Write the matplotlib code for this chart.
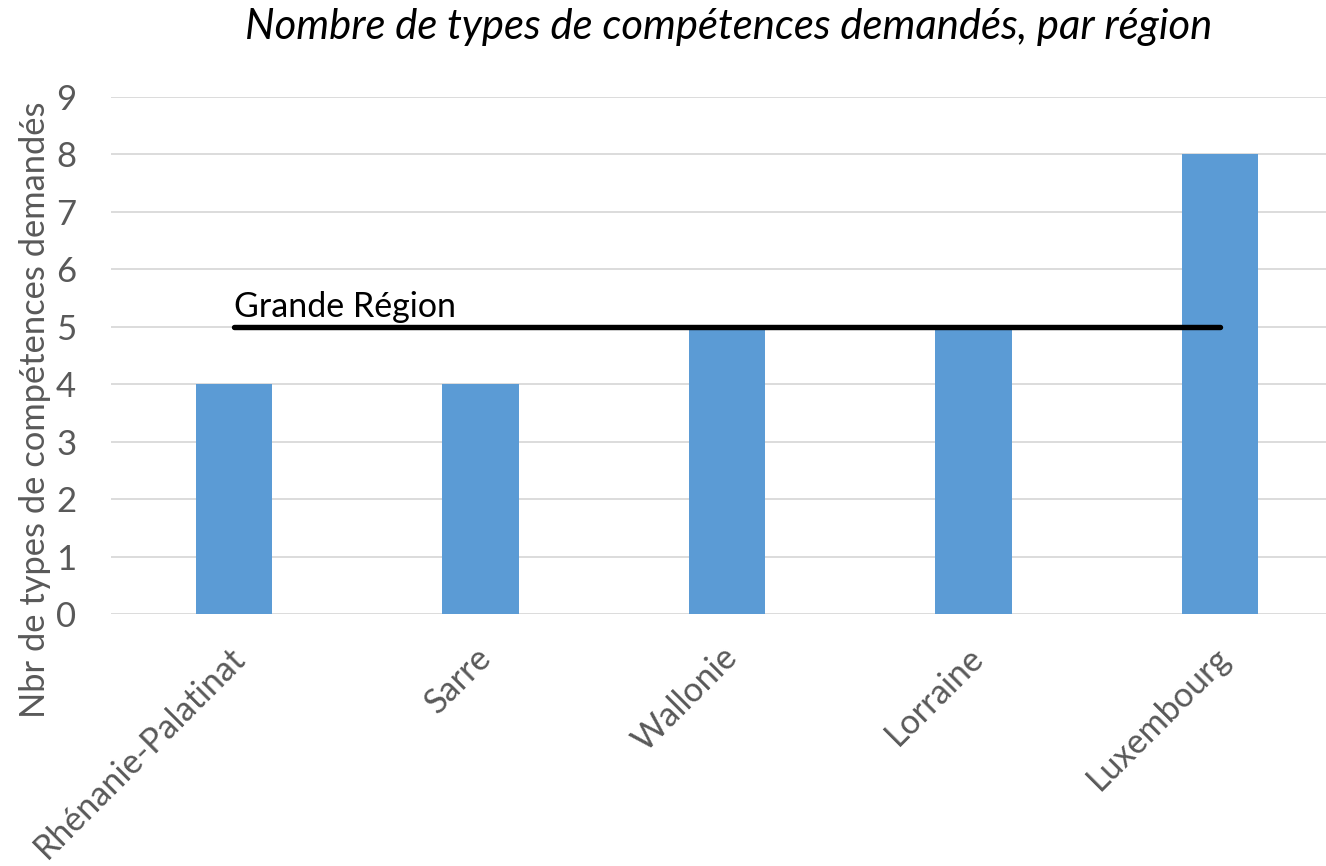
import matplotlib
matplotlib.use("Agg")
import matplotlib.pyplot as plt
from matplotlib.transforms import ScaledTranslation

categories = ["Rhénanie-Palatinat", "Sarre", "Wallonie", "Lorraine", "Luxembourg"]
values = [4, 4, 5, 5, 8]
grande_region = [5, 5, 5, 5, 5]
yticks = [0, 1, 2, 3, 4, 5, 6, 7, 8, 9]
title = "Nombre de types de compétences demandés, par région"
ylabel = "Nbr de types de compétences demandés"
line_label = "Grande Région"

FONT = "Lato"
TXT = "#595959"
W, H = 1326, 866
fig = plt.figure(figsize=(W / 100, H / 100), dpi=100)
fig.patch.set_facecolor("white")

left, right = 111, 1343
top, bottom = 97, 614
ax = fig.add_axes([left / W, 1 - bottom / H, (right - left) / W, (bottom - top) / H])

x = list(range(len(categories)))
ax.bar(x, values, width=0.31, color="#5B9BD5", zorder=2)
ax.plot(x, grande_region, color="black", lw=3.9, solid_capstyle="round", zorder=3)
ax.text(x[0], grande_region[0] + 0.17, line_label, fontsize=24.5, family=FONT,
        color="black", ha="left", va="baseline")

ax.set_xlim(-0.5, len(categories) - 0.5)
ax.set_ylim(0, 9)
ax.set_yticks(yticks)
ax.yaxis.grid(True, color="#D9D9D9", lw=1.3, zorder=0)
ax.set_axisbelow(True)
for s in ax.spines.values():
    s.set_visible(False)
ax.tick_params(length=0)
ax.tick_params(axis="y", labelsize=25, labelcolor=TXT, pad=25)
for t in ax.get_yticklabels():
    t.set_family(FONT)

ax.set_xticks(x)
ax.set_xticklabels(categories, rotation=45, ha="right", rotation_mode="anchor",
                   fontsize=24.6, color=TXT, family=FONT)
ax.tick_params(axis="x", pad=16)
off = ScaledTranslation(-6 / 100, -5 / 100, fig.dpi_scale_trans)
for lab in ax.get_xticklabels():
    lab.set_transform(lab.get_transform() + off)

fig.text(35 / W, 1 - 410 / H, ylabel, rotation=90, ha="center", va="center",
         fontsize=24.8, color=TXT, family=FONT)

t = fig.text(729 / W, 1 - 27 / H, title, ha="center", va="center",
             fontsize=24, style="italic", family=FONT, color="black")
fig.canvas.draw()
r = fig.canvas.get_renderer()
w = t.get_window_extent(r).width
t.set_fontsize(24 * 968 / w)

fig.savefig("out.png", dpi=100, facecolor="white")
